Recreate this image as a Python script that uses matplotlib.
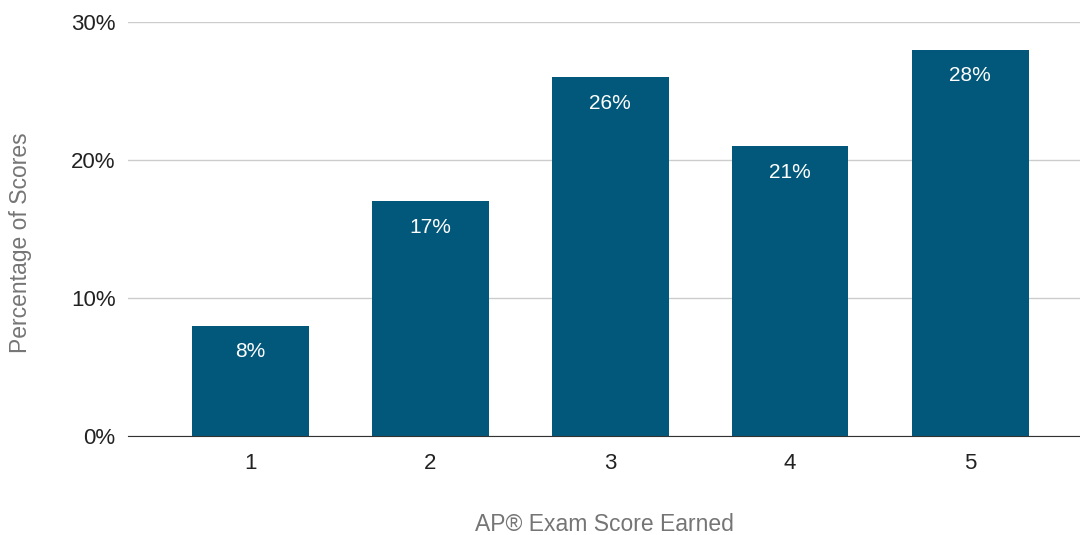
import numpy as np
import matplotlib.pyplot as plt
from matplotlib.ticker import PercentFormatter

plt.rcParams['font.family'] = ['Liberation Sans', 'DejaVu Sans']

scores = ['1', '2', '3', '4', '5']
pct = [8, 17, 26, 21, 28]
yticks = [0, 10, 20, 30]

bar_color = '#02587a'

fig = plt.figure(figsize=(10.8, 5.35), dpi=100)
ax = fig.add_axes([128/1080, 99/535, 952/1080, 414/535])

x = np.arange(1, len(scores) + 1)
ax.bar(x, pct, width=0.65, color=bar_color, zorder=3)

# labels inside the top of each bar
for xi, v in zip(x, pct):
    ax.annotate(f'{v}%', (xi, v), xytext=(0, -19), textcoords='offset points',
                ha='center', va='center', color='white', fontsize=15, zorder=4)

ax.set_xlim(1 - 122/180, 5 + 110/180)
ax.set_ylim(0, 30)
ax.set_yticks(yticks)
ax.yaxis.set_major_formatter(PercentFormatter(decimals=0))
ax.set_xticks(x)
ax.set_xticklabels(scores)

ax.grid(axis='y', color='#cccccc', linewidth=1, zorder=0)
for s in ['top', 'right', 'left']:
    ax.spines[s].set_visible(False)
ax.spines['bottom'].set_color('#333333')
ax.spines['bottom'].set_zorder(5)
ax.tick_params(axis='both', length=0, labelsize=16, labelcolor='#222222')
ax.tick_params(axis='x', pad=12)
ax.tick_params(axis='y', pad=9)

ax.set_xlabel('AP® Exam Score Earned', fontsize=16.5, color='#757575', labelpad=28)
ax.set_ylabel('Percentage of Scores', fontsize=16.5, color='#757575')
ax.yaxis.set_label_coords(-0.101, 0.468)

fig.savefig('out.png', dpi=100)
